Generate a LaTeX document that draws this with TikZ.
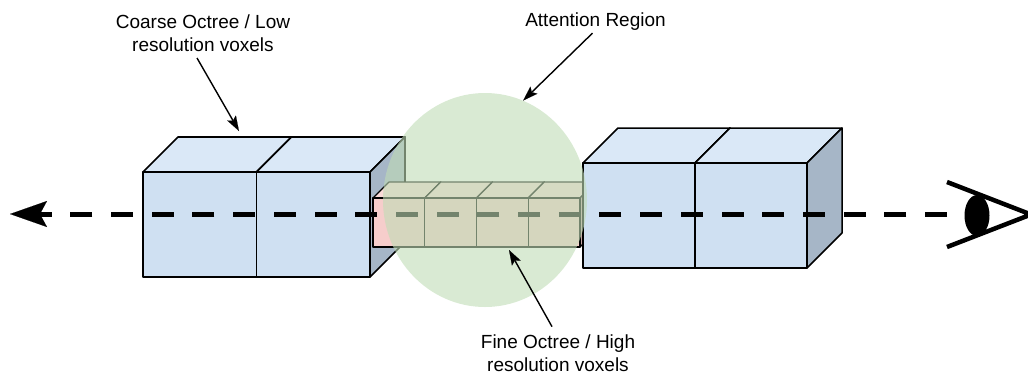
\documentclass[tikz,border=0pt]{standalone}
\usepackage{fontspec}
\setmainfont{Liberation Sans}
\usetikzlibrary{arrows.meta,shapes.geometric}

\definecolor{coarsefront}{HTML}{CFE0F2}
\definecolor{coarsetop}{HTML}{DAE8F7}
\definecolor{coarseside}{HTML}{A6B6C7}
\definecolor{finefront}{HTML}{F6CDCB}
\definecolor{finetop}{HTML}{F9DAD8}
\definecolor{fineside}{HTML}{C6A4A2}
\definecolor{attngreen}{RGB}{192,220,182}

\tikzset{
  lbl/.style={font=\fontsize{19}{23}\selectfont, align=center, inner sep=0pt},
  ptr/.style={-{Stealth[length=15pt,width=10pt,inset=3pt,line width=0.1pt]}, line width=1.4pt},
  ray/.style={line width=5pt, dash pattern=on 22pt off 18.7pt},
  region/.style={ellipse, minimum width=204pt, minimum height=214pt, inner sep=0pt,
    fill=attngreen, fill opacity=0.6},
}

\begin{document}
\begin{tikzpicture}[x=1pt,y=-1pt,>=Stealth]
  \useasboundingbox (0,0) rectangle (1028,376);
  \newcommand{\voxel}[6]{
    \filldraw[fill=#6top] (#1,#2) -- ++(#5,-#5) -- ++(#3,0) -- ++(-#5,#5) -- cycle;
    \filldraw[fill=#6side] (#1+#3,#2) -- ++(#5,-#5) -- ++(0,#4) -- ++(-#5,#5) -- cycle;
    \filldraw[fill=#6front] (#1,#2) rectangle ++(#3,#4);
  }
  % coarse voxels behind the region
  \begin{scope}[line width=1.7pt, line join=round]
    \foreach \i in {0,1} {
      \voxel{143+\i*113.5}{172}{113.5}{105}{35}{coarse}
    }
  \end{scope}
  % fine voxels inside the region
  \begin{scope}[line width=1.2pt, line join=round]
    \foreach \i in {0,...,3} {
      \voxel{373+\i*51.75}{198}{51.75}{49}{16}{fine}
    }
  \end{scope}
  % coarse voxels in front of the region
  \begin{scope}[line width=1.5pt, line join=round]
    \foreach \i in {0,1} {
      \voxel{583+\i*112}{163}{112}{105}{35}{coarse}
    }
  \end{scope}

  % viewing ray
  \coordinate (eye) at (947,214);
  \coordinate (far) at (10,214);
  \draw[ray,-{Stealth[length=37pt,width=26pt,inset=7pt,line width=0.1pt]}] (eye) -- (far);

  \node[region] (region) at (485,200) {};

  % the eye
  \draw[line width=4.5pt] (947,182) -- (1031,214.5) -- (947,247);
  \fill (977,215.5) ellipse [x radius=12.5, y radius=20.5];

  \node[lbl, anchor=south] (coarselbl) at (203,52) {Coarse Octree / Low\\resolution voxels};
  \node[lbl, anchor=base] (attnlbl) at (595.5,26) {Attention Region};
  \node[lbl, anchor=south] (finelbl) at (558,372) {Fine Octree / High\\resolution voxels};

  \coordinate (coarsetip) at (239,131);
  \coordinate (finetip) at (509,250);
  \draw[ptr] ([shift={(-6,6)}]coarselbl.south) -- (coarsetip);
  \draw[ptr] ([shift={(-3,3)}]attnlbl.south) -- (region.69);
  \draw[ptr] ([shift={(-6,-8)}]finelbl.north) -- (finetip);
\end{tikzpicture}
\end{document}
